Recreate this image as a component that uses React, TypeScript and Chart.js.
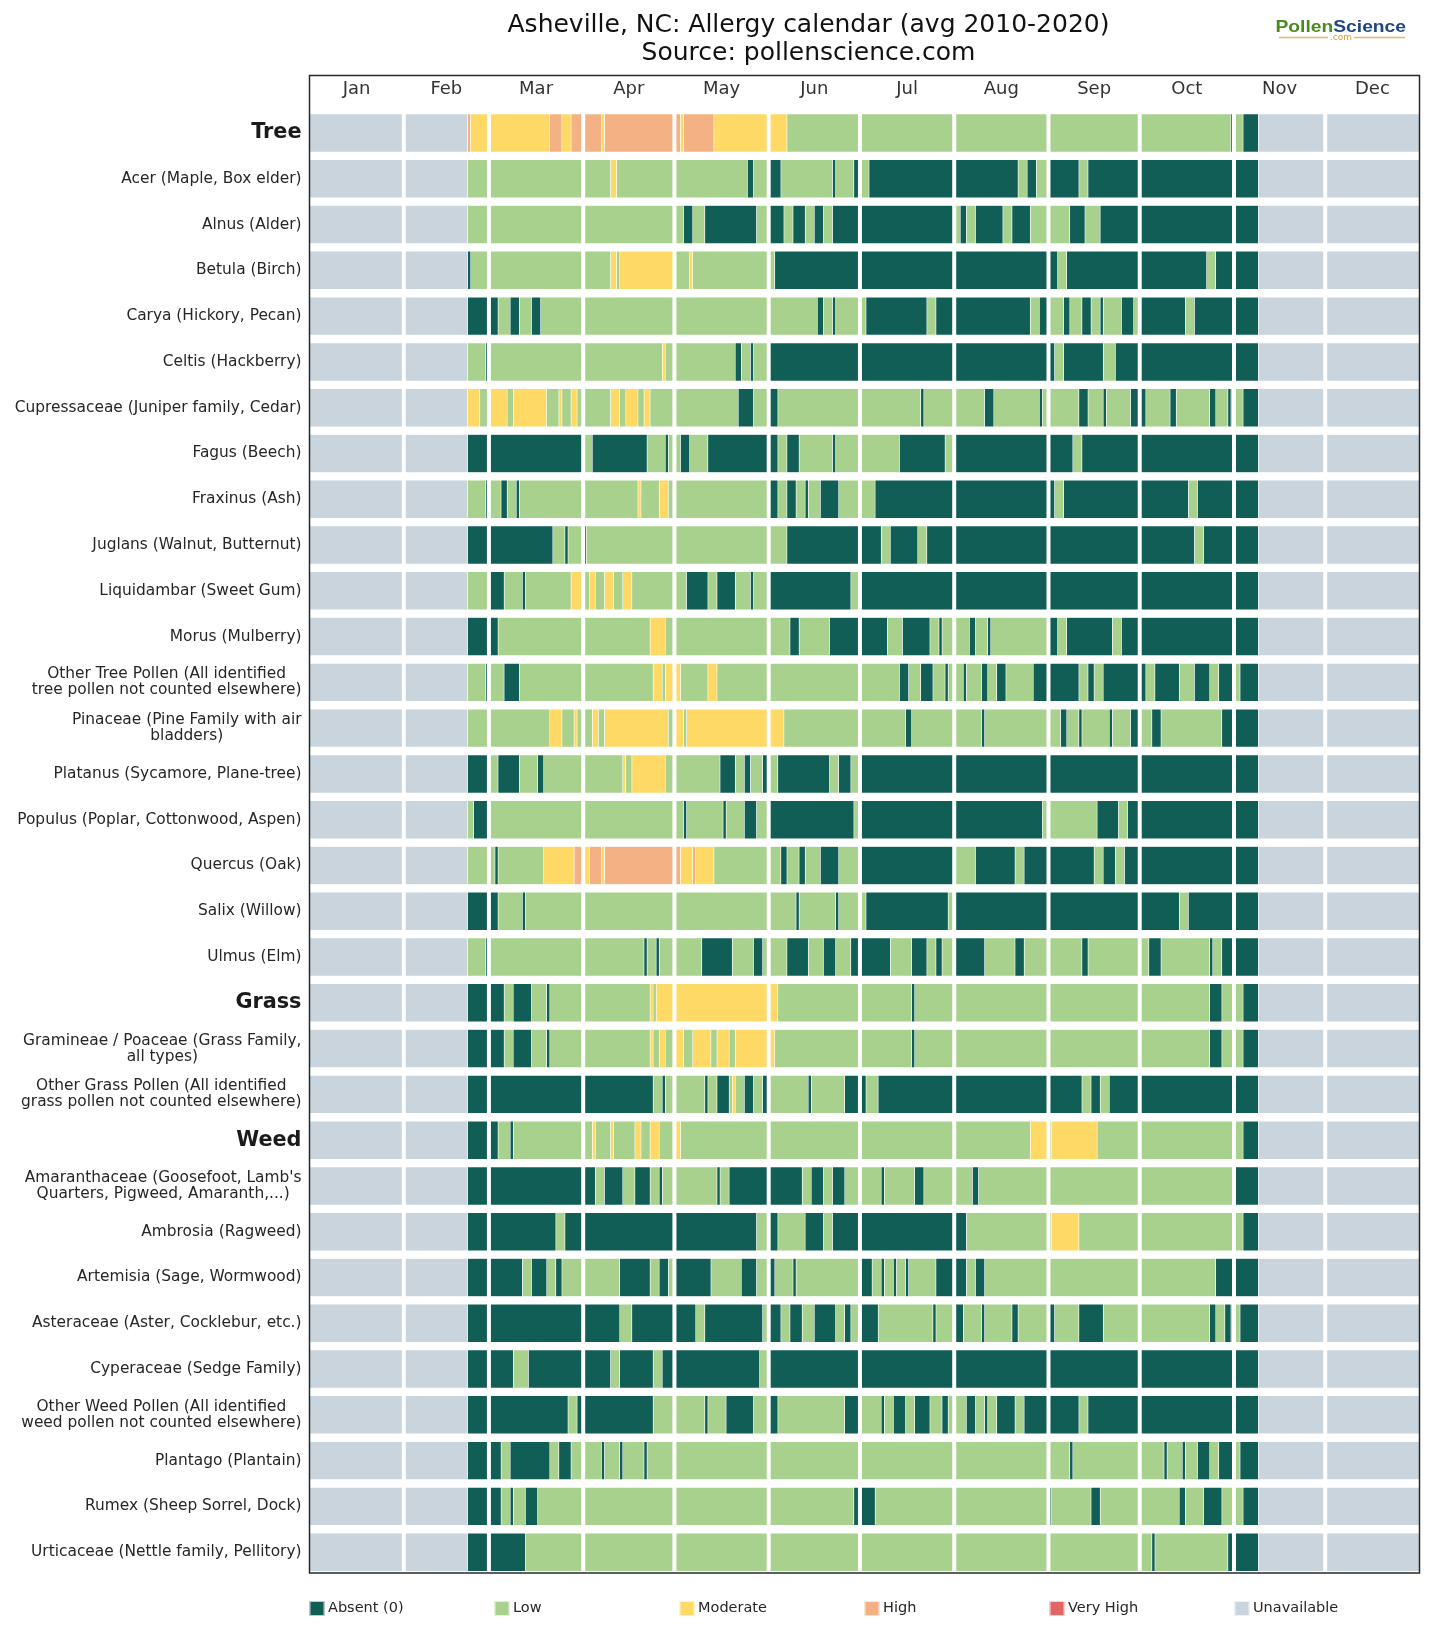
import { useEffect, useRef } from "react";
import { Chart, registerables } from "chart.js";

Chart.register(...registerables);

const FONT = "'DejaVu Sans', Verdana, sans-serif";

// Calendar axis (day of year, 0-based)
const MONTHS = ["Jan", "Feb", "Mar", "Apr", "May", "Jun", "Jul", "Aug", "Sep", "Oct", "Nov", "Dec"];
const MONTH_STARTS = [0, 31, 59, 90, 120, 151, 181, 212, 243, 273, 304, 334, 365];
const FIRST_DAY = 52;
const LAST_DAY = 312;

// Pollen levels
const A = 0, L = 1, M = 2, H = 3, U = 5;
const LEVELS = ["Absent (0)", "Low", "Moderate", "High", "Very High", "Unavailable"];
const LEVEL_COLORS = ["#115e57", "#a9d18e", "#ffd966", "#f4b183", "#e06666", "#c9d4dd"];

const ROW_LABELS: (string | string[])[] = [
  "Tree",
  "Acer (Maple, Box elder)",
  "Alnus (Alder)",
  "Betula (Birch)",
  "Carya (Hickory, Pecan)",
  "Celtis (Hackberry)",
  "Cupressaceae (Juniper family, Cedar)",
  "Fagus (Beech)",
  "Fraxinus (Ash)",
  "Juglans (Walnut, Butternut)",
  "Liquidambar (Sweet Gum)",
  "Morus (Mulberry)",
  ["Other Tree Pollen (All identified", "tree pollen not counted elsewhere)"],
  ["Pinaceae (Pine Family with air", "bladders)"],
  "Platanus (Sycamore, Plane-tree)",
  "Populus (Poplar, Cottonwood, Aspen)",
  "Quercus (Oak)",
  "Salix (Willow)",
  "Ulmus (Elm)",
  "Grass",
  ["Gramineae / Poaceae (Grass Family,", "all types)"],
  ["Other Grass Pollen (All identified", "grass pollen not counted elsewhere)"],
  "Weed",
  ["Amaranthaceae (Goosefoot, Lamb's", "Quarters, Pigweed, Amaranth,...)"],
  "Ambrosia (Ragweed)",
  "Artemisia (Sage, Wormwood)",
  "Asteraceae (Aster, Cocklebur, etc.)",
  "Cyperaceae (Sedge Family)",
  ["Other Weed Pollen (All identified", "weed pollen not counted elsewhere)"],
  "Plantago (Plantain)",
  "Rumex (Sheep Sorrel, Dock)",
  "Urticaceae (Nettle family, Pellitory)",
];
const GROUP_ROWS = [0, 19, 22];

// Each row: [day the level starts, level]; the last level runs to LAST_DAY
const tree = [[52, H], [53, M], [79, H], [83, M], [86, H], [96, M], [97, H], [122, M], [123, H], [133, M], [157, L], [303, A], [304, L], [307, A]];
const acer = [[52, L], [99, M], [101, L], [144, A], [146, L], [151, A], [155, L], [172, A], [173, L], [179, A], [181, L], [184, A], [233, L], [236, A], [239, L], [243, A], [253, L], [256, A]];
const alnus = [[52, L], [123, A], [126, L], [130, A], [147, L], [151, A], [156, L], [159, A], [163, L], [166, A], [169, L], [172, A], [212, L], [214, A], [216, L], [219, A], [228, L], [231, A], [237, L], [250, A], [255, L], [260, A]];
const betula = [[52, A], [53, L], [99, M], [101, L], [102, M], [120, L], [125, M], [126, L], [153, A], [246, L], [249, A], [295, L], [298, A]];
const carya = [[52, A], [62, L], [66, A], [69, L], [73, A], [76, L], [167, A], [169, L], [172, A], [173, L], [183, A], [203, L], [206, A], [237, L], [240, A], [243, L], [248, A], [250, L], [254, A], [257, L], [260, A], [261, L], [267, A], [271, L], [273, A], [288, L], [291, A]];
const celtis = [[52, L], [58, A], [59, L], [116, M], [117, L], [140, A], [142, L], [145, A], [146, L], [151, A], [245, L], [248, A], [261, L], [265, A]];
const cupressaceae = [[52, M], [56, L], [59, M], [65, L], [67, M], [78, L], [82, M], [83, L], [86, M], [88, L], [99, M], [102, L], [104, M], [108, L], [110, M], [112, L], [141, A], [146, L], [151, A], [154, L], [201, A], [202, L], [222, A], [225, L], [240, A], [241, L], [253, A], [256, L], [261, A], [262, L], [270, A], [275, L], [283, A], [285, L], [296, A], [298, L], [302, A], [303, L], [307, A]];
const fagus = [[52, A], [90, L], [93, A], [111, L], [117, A], [118, L], [122, A], [125, L], [131, A], [154, L], [157, A], [161, L], [172, A], [173, L], [194, A], [209, L], [212, A], [251, L], [254, A]];
const fraxinus = [[52, L], [58, A], [59, L], [63, A], [65, L], [68, A], [69, L], [108, M], [109, L], [115, M], [118, L], [151, A], [154, L], [157, A], [160, L], [163, A], [164, L], [168, A], [174, L], [186, A], [245, L], [248, A], [289, L], [292, A]];
const juglans = [[52, A], [80, L], [84, A], [85, L], [90, A], [91, L], [157, A], [188, L], [191, A], [200, L], [203, A], [291, L], [294, A]];
const liquidambar = [[52, L], [59, A], [64, L], [70, A], [71, L], [86, M], [90, L], [92, M], [94, L], [97, M], [100, L], [103, M], [106, L], [124, A], [131, L], [134, A], [140, L], [145, A], [146, L], [151, A], [178, L], [181, A]];
const morus = [[52, A], [62, L], [112, M], [117, L], [158, A], [161, L], [171, A], [190, L], [195, A], [204, L], [207, A], [208, L], [217, A], [219, L], [223, A], [224, L], [243, A], [246, L], [249, A], [264, L], [267, A]];
const otherTree = [[52, L], [58, A], [59, L], [64, A], [69, L], [113, M], [116, L], [117, M], [122, L], [131, M], [134, L], [194, A], [197, L], [201, A], [205, L], [209, A], [210, L], [215, A], [216, L], [221, A], [223, L], [226, A], [229, L], [238, A], [253, L], [256, A], [258, L], [261, A], [275, L], [278, A], [286, L], [291, A], [296, L], [299, A], [304, L], [306, A]];
const pinaceae = [[52, L], [79, M], [83, L], [87, M], [88, L], [93, M], [95, L], [97, M], [118, L], [120, M], [123, L], [124, M], [156, L], [196, A], [198, L], [221, A], [222, L], [247, A], [249, L], [253, A], [254, L], [263, A], [264, L], [270, A], [273, L], [277, A], [280, L], [300, A]];
const platanus = [[52, A], [59, L], [62, A], [69, L], [75, A], [77, L], [103, M], [104, L], [106, M], [117, L], [135, A], [140, L], [143, A], [145, L], [149, A], [151, L], [154, A], [171, L], [174, A], [178, L], [181, A]];
const populus = [[52, L], [54, A], [59, L], [123, A], [124, L], [136, A], [137, L], [143, A], [147, L], [151, A], [179, L], [181, A], [241, L], [259, A], [266, L], [269, A]];
const quercus = [[52, L], [61, A], [62, L], [77, M], [87, H], [90, M], [92, H], [96, M], [97, H], [122, M], [126, H], [127, M], [133, L], [155, A], [157, L], [161, A], [163, L], [168, A], [174, L], [181, A], [212, L], [219, A], [232, L], [235, A], [258, L], [261, A], [265, L], [268, A]];
const salix = [[52, A], [62, L], [70, A], [71, L], [160, A], [161, L], [173, A], [174, L], [183, A], [210, L], [212, A], [286, L], [289, A]];
const ulmus = [[52, L], [58, A], [59, L], [110, A], [111, L], [114, A], [115, L], [129, A], [139, L], [146, A], [149, L], [157, A], [164, L], [169, A], [173, L], [178, A], [191, L], [198, A], [203, L], [206, A], [208, L], [212, A], [222, L], [232, A], [235, L], [254, A], [256, L], [276, A], [280, L], [296, A], [297, L], [300, A]];
const grass = [[52, A], [64, L], [67, A], [73, L], [78, A], [79, L], [112, M], [113, L], [114, M], [154, L], [198, A], [199, L], [296, A], [300, L], [307, A]];
const gramineae = [[52, A], [64, L], [67, A], [73, L], [78, A], [79, L], [112, M], [113, L], [115, M], [117, L], [120, M], [123, L], [126, M], [132, L], [134, M], [138, L], [140, M], [153, L], [198, A], [199, L], [296, A], [300, L], [307, A]];
const otherGrass = [[52, A], [113, L], [116, A], [117, L], [130, A], [131, L], [134, A], [138, L], [139, M], [140, L], [143, A], [146, L], [149, A], [151, L], [164, A], [165, L], [176, A], [183, L], [187, A], [254, L], [257, A], [260, L], [263, A]];
const weed = [[52, A], [62, L], [66, A], [67, L], [93, M], [94, L], [99, M], [100, L], [107, M], [109, L], [112, M], [115, L], [120, M], [122, L], [237, M], [243, L], [244, M], [259, L], [307, A]];
const amaranthaceae = [[52, A], [94, L], [97, A], [103, L], [107, A], [112, L], [115, A], [116, L], [134, A], [135, L], [138, A], [162, L], [165, A], [169, L], [172, A], [176, L], [188, A], [189, L], [199, A], [202, L], [218, A], [220, L], [304, A]];
const ambrosia = [[52, A], [81, L], [84, A], [147, L], [151, A], [154, L], [163, A], [169, L], [172, A], [216, L], [244, M], [253, L], [307, A]];
const artemisia = [[52, A], [70, L], [73, A], [78, L], [81, A], [83, L], [102, A], [112, L], [115, A], [118, L], [120, A], [132, L], [142, A], [147, L], [151, A], [153, L], [159, A], [160, L], [181, A], [185, L], [188, A], [189, L], [192, A], [193, L], [196, A], [197, L], [206, A], [216, L], [219, A], [222, L], [298, A]];
const asteraceae = [[52, A], [102, L], [106, A], [127, L], [130, A], [149, L], [151, A], [155, L], [158, A], [162, L], [166, A], [173, L], [176, A], [178, L], [181, A], [187, L], [205, A], [206, L], [212, A], [215, L], [221, A], [222, L], [231, A], [233, L], [243, A], [245, L], [253, A], [261, L], [296, A], [298, L], [301, A], [303, L], [306, A]];
const cyperaceae = [[52, A], [67, L], [72, A], [99, L], [102, A], [113, L], [116, A], [148, L], [151, A]];
const otherWeed = [[52, A], [85, L], [88, A], [113, L], [130, A], [131, L], [137, A], [146, L], [151, A], [154, L], [176, A], [181, L], [188, A], [189, L], [192, A], [196, L], [199, A], [204, L], [208, A], [210, L], [216, A], [219, L], [222, A], [223, L], [226, A], [232, L], [235, A], [253, L], [256, A]];
const plantago = [[52, A], [63, L], [66, A], [79, L], [82, A], [86, L], [96, A], [97, L], [102, A], [103, L], [110, A], [111, L], [250, A], [251, L], [281, A], [282, L], [287, A], [288, L], [292, A], [296, L], [299, A], [304, L], [306, A]];
const rumex = [[52, A], [63, L], [66, A], [67, L], [71, A], [75, L], [179, A], [186, L], [243, A], [244, L], [257, A], [260, L], [286, A], [288, L], [294, A], [300, L], [307, A]];
const urticaceae = [[52, A], [71, L], [277, A], [278, L], [302, A]];

const ROWS = [
  tree, acer, alnus, betula, carya, celtis, cupressaceae, fagus, fraxinus, juglans,
  liquidambar, morus, otherTree, pinaceae, platanus, populus, quercus, salix, ulmus,
  grass, gramineae, otherGrass,
  weed, amaranthaceae, ambrosia, artemisia, asteraceae, cyperaceae, otherWeed, plantago, rumex, urticaceae,
];

// Turns the change points of every row into floating bars of one level
function barsForLevel(level: number) {
  const bars: { x: [number, number]; y: number }[] = [];
  ROWS.forEach((changes, row) => {
    const points = [[0, U], ...changes, [LAST_DAY, U]];
    points.forEach(([start, lvl], k) => {
      const end = k + 1 < points.length ? points[k + 1][0] : MONTH_STARTS[12];
      if (lvl === level && end > start) bars.push({ x: [start, end], y: row });
    });
  });
  return bars;
}

const decorPlugin = {
  id: "calendarDecor",
  afterDatasetsDraw(chart: any) {
    const { ctx, chartArea: area, scales } = chart;
    const xs = scales.x;
    const ys = scales.y;
    ctx.save();

    // month separators
    ctx.strokeStyle = "#ffffff";
    ctx.lineWidth = 4;
    MONTH_STARTS.slice(1, -1).forEach((d) => {
      const px = xs.getPixelForValue(d);
      ctx.beginPath();
      ctx.moveTo(px, area.top);
      ctx.lineTo(px, area.bottom);
      ctx.stroke();
    });

    // frame
    ctx.strokeStyle = "#24292e";
    ctx.lineWidth = 1.5;
    ctx.strokeRect(area.left, area.top, area.right - area.left, area.bottom - area.top);

    // month names inside the top band
    ctx.fillStyle = "#333333";
    ctx.font = `18px ${FONT}`;
    ctx.textAlign = "center";
    ctx.textBaseline = "middle";
    MONTHS.forEach((m, i) => {
      const mid = (MONTH_STARTS[i] + MONTH_STARTS[i + 1]) / 2;
      ctx.fillText(m, xs.getPixelForValue(mid), ys.getPixelForValue(-1) + 2);
    });

    // row labels: block right-aligned to the frame, lines centred in the block
    ROW_LABELS.forEach((label, i) => {
      const lines = Array.isArray(label) ? label : [label];
      const group = GROUP_ROWS.includes(i);
      ctx.font = group ? `bold 20.8px ${FONT}` : `15.4px ${FONT}`;
      ctx.fillStyle = group ? "#1a1a1a" : "#262626";
      const widths = lines.map((t) => ctx.measureText(t).width);
      const blockW = Math.max(...widths);
      const right = area.left - 8;
      const lh = 15.9;
      const cy = ys.getPixelForValue(i);
      lines.forEach((t, k) => {
        const y = cy + (k - (lines.length - 1) / 2) * lh;
        ctx.textAlign = lines.length > 1 ? "center" : "right";
        ctx.fillText(t, lines.length > 1 ? right - blockW / 2 : right, y);
      });
    });

    // title
    ctx.fillStyle = "#111111";
    ctx.font = `25px ${FONT}`;
    ctx.textAlign = "center";
    ctx.fillText("Asheville, NC: Allergy calendar (avg 2010-2020)", 800.5, 17);
    ctx.fillText("Source: pollenscience.com", 800.5, 45);

    // PollenScience mark
    ctx.font = `bold 17px 'Liberation Sans', Arial, sans-serif`;
    ctx.textBaseline = "alphabetic";
    ctx.textAlign = "left";
    const w1 = ctx.measureText("Pollen").width;
    const w2 = ctx.measureText("Science").width;
    const sx = 130.5 / (w1 + w2);
    ctx.save();
    ctx.translate(1267.5, 23.7);
    ctx.scale(sx, 1);
    ctx.fillStyle = "#4c8a1e";
    ctx.fillText("Pollen", 0, 0);
    ctx.fillStyle = "#1f467f";
    ctx.fillText("Science", w1, 0);
    ctx.restore();
    ctx.strokeStyle = "#f0b45a";
    ctx.lineWidth = 1.5;
    ctx.beginPath();
    ctx.moveTo(1271, 29.5);
    ctx.lineTo(1320, 29.5);
    ctx.moveTo(1346, 29.5);
    ctx.lineTo(1397, 29.5);
    ctx.stroke();
    ctx.fillStyle = "#e8952a";
    ctx.font = `9px ${FONT}`;
    ctx.textAlign = "center";
    ctx.textBaseline = "middle";
    ctx.fillText(".com", 1333, 29.5);

    // legend
    const step = (area.right - area.left) / LEVELS.length;
    ctx.font = `14.5px ${FONT}`;
    ctx.textAlign = "left";
    ctx.textBaseline = "middle";
    LEVELS.forEach((name, k) => {
      const x0 = area.left + k * step;
      const cy = 1600.5;
      ctx.fillStyle = LEVEL_COLORS[k];
      ctx.fillRect(x0, cy - 7.5, 15, 15);
      ctx.strokeStyle = "rgba(255,255,255,0.7)";
      ctx.lineWidth = 1;
      ctx.strokeRect(x0 + 0.5, cy - 7, 14, 14);
      ctx.fillStyle = "#262626";
      ctx.fillText(name, x0 + 18.5, cy);
    });

    ctx.restore();
  },
};

export default function App() {
  const canvasRef = useRef<HTMLCanvasElement | null>(null);

  useEffect(() => {
    if (!canvasRef.current) return;
    const datasets = LEVELS.map((label, lvl) => ({
      label,
      data: barsForLevel(lvl),
      backgroundColor: LEVEL_COLORS[lvl],
      borderColor: "#ffffff",
      borderWidth: 0.6,
      borderSkipped: false,
      barThickness: 38,
      grouped: false,
    }));
    const chart = new Chart(canvasRef.current, {
      type: "bar",
      data: { datasets } as any,
      options: {
        indexAxis: "y",
        responsive: false,
        animation: false,
        devicePixelRatio: 1,
        events: [],
        layout: { padding: { left: 301.5, right: 21.5, top: 67.5, bottom: 65 } },
        scales: {
          x: { type: "linear", min: 0, max: 365, display: false, offset: false },
          y: { type: "linear", min: -1.256, max: 31.455, reverse: true, display: false, offset: false },
        },
        plugins: {
          legend: { display: false },
          title: { display: false },
          tooltip: { enabled: false },
        },
      } as any,
      plugins: [decorPlugin],
    });
    return () => chart.destroy();
  }, []);

  return (
    <div style={{ width: 1433, height: 1630 }}>
      <canvas ref={canvasRef} width={1433} height={1630} style={{ display: "block" }} />
    </div>
  );
}
